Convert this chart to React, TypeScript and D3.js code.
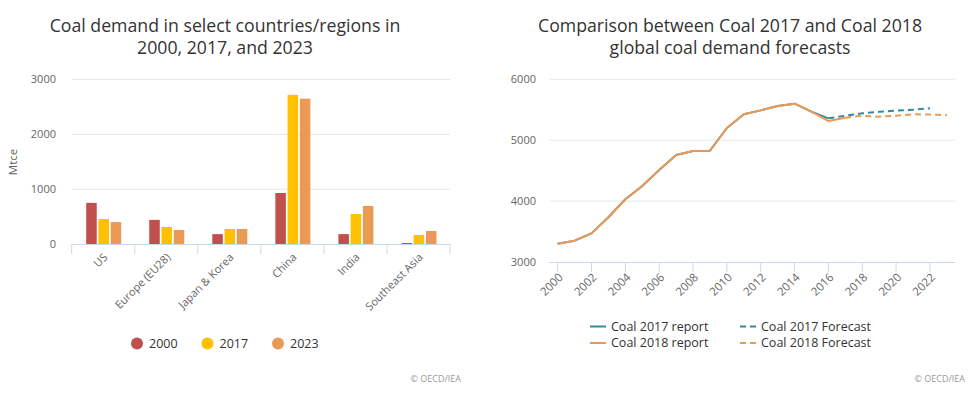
import React from "react";
import * as d3 from "d3";

const categories = ["US", "Europe (EU28)", "Japan & Korea", "China", "India", "Southeast Asia"];
const barSeries = ["2000", "2017", "2023"];
const values2000 = [750, 440, 180, 930, 180, 18];
const values2017 = [455, 310, 273, 2720, 547, 164];
const values2023 = [400, 255, 273, 2650, 693, 237];
const barColors = ["#C0504D", "#FFC000", "#EB9A55"];
const barTicks = [0, 1000, 2000, 3000];

const years = d3.range(2000, 2024);
const report2017 = [3300, 3350, 3470, 3734, 4030, 4248, 4510, 4757, 4823, 4828, 5200, 5425, 5490, 5562, 5600, 5468, 5359];
const report2018 = [3300, 3350, 3470, 3734, 4030, 4248, 4510, 4757, 4823, 4828, 5200, 5425, 5490, 5562, 5600, 5468, 5315, 5370];
const forecastYears2017 = [2016, 2017, 2018, 2019, 2020, 2021, 2022];
const forecast2017 = [5359, 5402, 5441, 5468, 5485, 5502, 5525];
const forecastYears2018 = [2017, 2018, 2019, 2020, 2021, 2022, 2023];
const forecast2018 = [5370, 5402, 5386, 5402, 5425, 5420, 5413];
const lineTicks = [3000, 4000, 5000, 6000];
const tealColor = "#338A9E";
const orangeColor = "#EB9A55";

const FONT = "'Open Sans', 'Noto Sans', sans-serif";

function BarChart() {
  const x = d3.scaleBand<string>().domain(categories).range([71.7, 450]).paddingInner(0).paddingOuter(0);
  const inner = d3.scaleBand<string>().domain(barSeries).range([14.5, 49.5]).paddingInner(0.14);
  const y = d3.scaleLinear().domain([0, 3000]).range([244, 79.5]);
  const seriesVals = [values2000, values2017, values2023];
  return (
    <g>
      <text x={225} y={32} textAnchor="middle" fontSize={17.7} fill="#333">Coal demand in select countries/regions in</text>
      <text x={225} y={53.5} textAnchor="middle" fontSize={17.7} fill="#333">2000, 2017, and 2023</text>
      {barTicks.map((t) => (
        <g key={t}>
          {t !== 0 && <line x1={71.7} x2={450} y1={y(t)} y2={y(t)} stroke="#e6e6e6" />}
          <text x={56} y={y(t)} dy="0.35em" textAnchor="end" fontSize={11} fill="#666">{t}</text>
        </g>
      ))}
      <text transform={`translate(17,${162}) rotate(-90)`} textAnchor="middle" fontSize={11.5} fill="#666">Mtce</text>
      {categories.map((c, i) =>
        seriesVals.map((vals, s) => (
          <rect key={c + s} x={(x(c) as number) + (inner(barSeries[s]) as number)} width={inner.bandwidth()}
            y={y(vals[i])} height={244 - y(vals[i])} fill={barColors[s]} />
        ))
      )}
      <line x1={71.7} x2={450} y1={244.5} y2={244.5} stroke="#ccd6eb" />
      {[...categories.map((c) => x(c) as number), 450].map((v, i) => (
        <line key={i} x1={v} x2={v} y1={244} y2={254} stroke="#ccd6eb" />
      ))}
      {categories.map((c) => (
        <text key={c} transform={`translate(${(x(c) as number) + x.bandwidth() / 2 + 5},${258}) rotate(-45)`}
          textAnchor="end" fontSize={11} fill="#666">{c}</text>
      ))}
      {barSeries.map((s, i) => (
        <g key={s} transform={`translate(${137 + i * 70.5},343.5)`}>
          <circle r={6} fill={barColors[i]} />
          <text x={12} dy="0.35em" fontSize={12.5} fill="#333">{s}</text>
        </g>
      ))}
      <text x={461} y={382} textAnchor="end" fontSize={9} fill="#999">© OECD/IEA</text>
    </g>
  );
}

function LineChart() {
  const x = d3.scaleBand<number>().domain(years).range([549.2, 955.3]);
  const cx = (yr: number) => (x(yr) as number) + x.bandwidth() / 2;
  const y = d3.scaleLinear().domain([3000, 6000]).range([262, 79.3]);
  const line = d3.line<[number, number]>().x((d) => cx(d[0])).y((d) => y(d[1]));
  const pairs = (ys: number[], vs: number[]) => ys.map((yr, i) => [yr, vs[i]] as [number, number]);
  const r17 = pairs(years.slice(0, report2017.length), report2017);
  const r18 = pairs(years.slice(0, report2018.length), report2018);
  const f17 = pairs(forecastYears2017, forecast2017);
  const f18 = pairs(forecastYears2018, forecast2018);
  const legend = [
    { label: "Coal 2017 report", color: tealColor, dash: null, lx: 590, ly: 326.5 },
    { label: "Coal 2018 report", color: orangeColor, dash: null, lx: 590, ly: 343 },
    { label: "Coal 2017 Forecast", color: tealColor, dash: "6,4", lx: 740, ly: 326.5 },
    { label: "Coal 2018 Forecast", color: orangeColor, dash: "6,4", lx: 740, ly: 343 },
  ];
  const tickYears = years.filter((yr) => yr % 2 === 0);
  return (
    <g>
      <text x={730} y={32} textAnchor="middle" fontSize={17.7} fill="#333">Comparison between Coal 2017 and Coal 2018</text>
      <text x={730} y={53.5} textAnchor="middle" fontSize={17.7} fill="#333">global coal demand forecasts</text>
      {lineTicks.map((t) => (
        <g key={t}>
          {t !== 3000 && <line x1={549.2} x2={955.3} y1={y(t)} y2={y(t)} stroke="#e6e6e6" />}
          <text x={536} y={y(t)} dy="0.35em" textAnchor="end" fontSize={11} fill="#666">{t}</text>
        </g>
      ))}
      <line x1={549.2} x2={955.3} y1={262.5} y2={262.5} stroke="#ccd6eb" />
      {tickYears.map((yr) => (
        <g key={yr}>
          <line x1={cx(yr)} x2={cx(yr)} y1={262} y2={272} stroke="#ccd6eb" />
          <text transform={`translate(${cx(yr) + 6},${278}) rotate(-45)`} textAnchor="end" fontSize={11.5} fill="#666">{yr}</text>
        </g>
      ))}
      <g fill="none" strokeWidth={2} strokeLinejoin="round">
        <path d={line(f17) || ""} stroke={tealColor} strokeDasharray="6,4" />
        <path d={line(f18) || ""} stroke={orangeColor} strokeDasharray="6,4" />
        <path d={line(r17) || ""} stroke={tealColor} />
        <path d={line(r18) || ""} stroke={orangeColor} />
      </g>
      {legend.map((l) => (
        <g key={l.label}>
          <line x1={l.lx} x2={l.lx + 16} y1={l.ly} y2={l.ly} stroke={l.color} strokeWidth={2}
            strokeDasharray={l.dash || undefined} />
          <text x={l.lx + 21} y={l.ly} dy="0.35em" fontSize={12.5} fill="#333">{l.label}</text>
        </g>
      ))}
      <text x={965} y={382} textAnchor="end" fontSize={9} fill="#999">© OECD/IEA</text>
    </g>
  );
}

export default function App() {
  return (
    <div style={{ position: "fixed", left: 0, top: 0 }}>
      <svg width={974} height={393} style={{ display: "block", background: "#fff", fontFamily: FONT }}>
        <BarChart />
        <LineChart />
      </svg>
    </div>
  );
}
